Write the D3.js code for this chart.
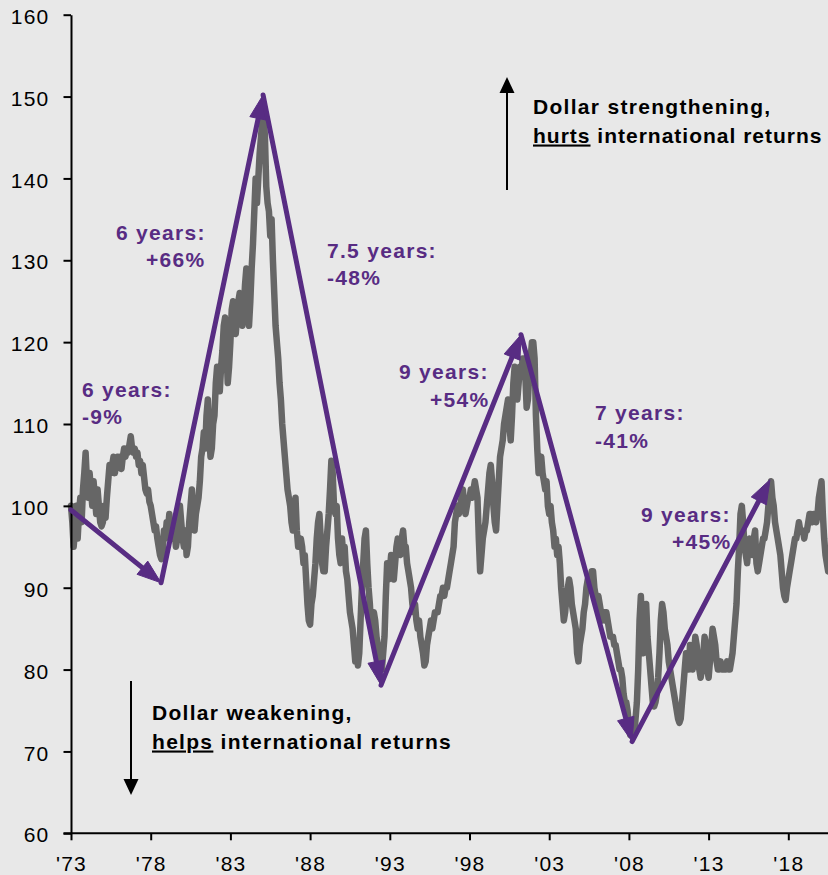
<!DOCTYPE html>
<html><head><meta charset="utf-8">
<script src="https://cdn.jsdelivr.net/npm/d3@7"></script>
<style>html,body{margin:0;padding:0;background:#e8e8e8;} svg{display:block;}</style>
</head><body><svg id="c" width="828" height="875"></svg>
<script>
// ---- data ----
const startYear = 1973; // monthly values from Jan 1973
const values1973_1979 = [
 100, 98, 95, 97, 100, 96, 99, 101, 98, 102, 104, 106.5,
 103, 101, 104, 102, 100, 103, 101, 99, 102, 100, 98, 97.5,
 98, 100, 98.5, 101, 103, 105, 104, 105, 106, 104, 105, 106,
 105, 106, 104.5, 106, 107, 106, 107, 106.5, 107.5, 108.5, 107, 106.5,
 107, 106, 106.5, 105, 105.5, 104, 105, 103.5, 102, 101.5, 102, 100.5,
 100, 99, 98, 97, 97.5, 96, 95, 94, 93.5, 94.5, 97, 96,
 98, 97, 99, 97, 96, 98, 97, 95, 96, 98, 100, 98
];
const values1980_1989 = [
 96, 95, 97, 94, 95, 98, 100, 102, 99, 97, 99, 100,
 101, 103, 106, 107, 109, 107, 111, 113, 109, 106, 107, 110,
 111, 115, 117, 116, 114, 117, 119, 122, 123, 119, 115, 117,
 120, 124, 125, 122, 121, 123, 125, 126, 124, 122, 124, 127,
 129, 126, 122, 125, 129, 132, 136, 140, 137, 140, 143, 145,
 147, 148, 145, 139, 137, 136, 133, 135, 130, 126, 122, 120,
 118, 115, 113, 110, 108, 106, 104, 102, 101, 100, 98, 97,
 99, 101, 97, 95, 95, 96, 95, 93, 94, 91, 88, 86,
 85.5, 88, 89, 91, 93, 96, 98, 99, 96, 93, 92, 92,
 95, 97, 99, 102, 105.5, 104, 100, 99, 100, 96, 94, 93
];
const values1990_1999 = [
 96, 94, 95, 92, 91, 89, 87, 86, 85, 83, 81, 82,
 80.5, 82, 86, 90, 93, 96, 97, 93, 90, 88, 85, 84,
 87, 86, 84, 83, 81, 80, 80, 82, 84, 89, 93, 91,
 92, 94, 93, 91, 93, 95, 96, 95, 94, 96, 97, 95,
 95, 93, 92, 91, 90, 88, 87, 88, 86, 85, 86, 84,
 83, 82, 80.5, 81, 83, 84, 85, 86, 85, 86, 87, 87,
 87, 88, 89, 89, 90, 89, 90, 90, 91, 92, 93, 94,
 95, 98, 99, 100, 99, 100, 101, 102, 100, 99, 100, 101,
 101, 102, 101, 102, 103, 102, 101, 96, 92, 94, 96, 97,
 98, 100, 102, 104, 105, 103, 100, 98, 97, 100, 103, 106
];
const values2000_2009 = [
 107, 108, 110, 111, 112, 113, 110, 108, 111, 115, 117, 114,
 113, 115, 117, 116, 118, 118, 116, 112, 113, 116, 118, 120,
 120, 118, 111, 107, 104, 105, 106, 104, 103, 102, 103, 100,
 99, 100, 98, 97, 95, 96, 94, 95, 93, 90, 88, 86,
 87, 89, 90, 91, 90, 88, 87, 86, 85, 82, 81, 83,
 84, 85, 87, 88, 90, 91, 90, 91, 92, 92, 90, 89,
 88, 89, 88, 87, 86, 87, 86, 87, 86, 85, 84, 84,
 84, 83, 83, 82, 81, 80, 80, 79, 77, 76, 76, 75,
 73, 72, 72, 73, 72, 74, 76, 80, 86, 89, 85, 82,
 86, 88, 84, 82, 80, 78, 76, 75.5, 76, 77, 79, 82
];
const values2010_2020 = [
 86, 88, 87, 85, 84, 83, 81, 80, 79, 78, 77, 76,
 75, 74, 73.5, 74, 76, 78, 80, 82, 81, 80, 83, 81,
 80, 82, 84, 83, 81, 80, 79, 80, 82, 84, 83, 80,
 79, 81, 83, 85, 84, 83, 81, 80, 80, 81, 80, 80,
 80, 80, 81, 80, 80, 81, 82, 84, 86, 88, 92, 95,
 99, 100, 98, 95, 94, 93, 95, 96, 95, 94, 96, 97,
 93, 92, 93, 94, 95, 96, 96, 97, 98, 100, 102, 103,
 101, 100, 98, 97, 96, 95, 94, 92, 90, 89, 88.5, 90,
 91, 92, 93, 94, 95, 96, 96, 97, 98, 97, 97, 97,
 96, 97, 97, 98, 99, 99, 98, 99, 99, 98, 99, 101,
 102, 103, 99, 96, 94, 93, 92
];
const yTicks = [60, 70, 80, 90, 100, 110, 120, 130, 140, 150, 160];
const xTickYears = [1973, 1978, 1983, 1988, 1993, 1998, 2003, 2008, 2013, 2018];
const xTickLabels = ["'73", "'78", "'83", "'88", "'93", "'98", "'03", "'08", "'13", "'18"];
const swingYears = [1973.0, 1978.65, 1985.05, 1992.45, 2001.23, 2008.2, 2016.85];
const swingValues = [99.5, 90.6, 150.2, 78.1, 120.9, 71.2, 103.2];
const swingLine1 = ["6 years:", "6 years:", "7.5 years:", "9 years:", "7 years:", "9 years:"];
const swingLine2 = ["-9%", "+66%", "-48%", "+54%", "-41%", "+45%"];

// ---- layout ----
const W = 828, H = 875;
const labelPos = [
  {x1: 82, x2: 82, y: 396.7},
  {x1: 116, x2: 146, y: 239.5},
  {x1: 327, x2: 327, y: 257.5},
  {x1: 399, x2: 430, y: 379.3},
  {x1: 595, x2: 595, y: 420},
  {x1: 641, x2: 672, y: 521.7}
];
const FONT = "'Liberation Sans', Arial, Helvetica, sans-serif";
const PURPLE = "#582c83";

const allValues = [].concat(values1973_1979, values1980_1989, values1990_1999, values2000_2009, values2010_2020);
const series = allValues.map((v, i) => ({t: startYear + i / 12, v}));

const svg = d3.select("#c");
svg.append("rect").attr("width", W).attr("height", H).attr("fill", "#e8e8e8");

const x = d3.scaleLinear().domain([1973, 2020.49]).range([71, 828]);
const y = d3.scaleLinear().domain([60, 160]).range([833.3, 14.7]);

// gray line
svg.append("path").datum(series)
  .attr("fill", "none").attr("stroke", "#666666").attr("stroke-width", 6.5)
  .attr("stroke-linejoin", "round").attr("stroke-linecap", "round")
  .attr("d", d3.line().x(d => x(d.t)).y(d => y(d.v)));

// axes
const yAxis = svg.append("g").attr("transform", "translate(71,0)")
  .call(d3.axisLeft(y).tickValues(yTicks).tickSize(7.5).tickSizeOuter(0).tickPadding(14).tickFormat(d3.format("d")));
const xAxis = svg.append("g").attr("transform", "translate(0,833.3)")
  .call(d3.axisBottom(x).tickValues(xTickYears).tickSize(7).tickSizeOuter(0).tickPadding(15.5)
    .tickFormat((d, i) => xTickLabels[i]));
[yAxis, xAxis].forEach(g => {
  g.select(".domain").attr("stroke", "#000").attr("stroke-width", 2);
  g.selectAll(".tick line").attr("stroke", "#000").attr("stroke-width", 2);
  g.selectAll(".tick text").attr("fill", "#000").style("font-family", FONT)
    .style("font-size", "21px").style("letter-spacing", "1.2px");
});
yAxis.selectAll(".tick text").attr("dy", "0.41em");
xAxis.select(".domain").attr("d", "M63.5,0H828");

// purple swing arrows
const arrowG = svg.append("g");
for (let i = 0; i < swingYears.length - 1; i++) {
  const p0 = [x(swingYears[i]), y(swingValues[i])];
  const p1 = [x(swingYears[i + 1]), y(swingValues[i + 1])];
  const dx = p1[0] - p0[0], dy = p1[1] - p0[1];
  const len = Math.hypot(dx, dy);
  const ux = dx / len, uy = dy / len, nx = -uy, ny = ux;
  const L = 24, hw = 8.5;
  const bx = p1[0] - ux * L, by = p1[1] - uy * L;
  arrowG.append("line")
    .attr("x1", p0[0]).attr("y1", p0[1]).attr("x2", bx + ux * 3).attr("y2", by + uy * 3)
    .attr("stroke", PURPLE).attr("stroke-width", 5).attr("stroke-linecap", "round");
  arrowG.append("path")
    .attr("d", `M${p1[0]},${p1[1]}L${bx + nx * hw},${by + ny * hw}L${bx - nx * hw},${by - ny * hw}Z`)
    .attr("fill", PURPLE).attr("stroke", PURPLE).attr("stroke-width", 1).attr("stroke-linejoin", "round");
}

// swing labels
swingLine1.forEach((t, i) => {
  const p = labelPos[i];
  const txt = svg.append("text").attr("fill", PURPLE).style("font-family", FONT)
    .style("font-size", "21px").style("font-weight", "bold").style("letter-spacing", "1.3px");
  txt.append("tspan").attr("x", p.x1).attr("y", p.y).text(t);
  txt.append("tspan").attr("x", p.x2).attr("y", p.y + 27.5).text(swingLine2[i]);
});

// black direction arrows
function blackArrow(xp, yFrom, yTip, dir) {
  const L = 16, hw = 7.5;
  const base = yTip - dir * L;
  svg.append("line").attr("x1", xp).attr("x2", xp).attr("y1", yFrom).attr("y2", base)
    .attr("stroke", "#000").attr("stroke-width", 2);
  svg.append("path").attr("d", `M${xp},${yTip}L${xp - hw},${base}L${xp + hw},${base}Z`).attr("fill", "#000");
}
blackArrow(507, 190, 77, -1);
blackArrow(131, 681, 795, 1);

function note(xp, yp, l1, u, rest, ls2) {
  const t = svg.append("text").attr("fill", "#000").style("font-family", FONT)
    .style("font-size", "21px").style("font-weight", "bold").style("letter-spacing", "1.3px");
  t.append("tspan").attr("x", xp).attr("y", yp).text(l1);
  t.append("tspan").attr("x", xp).attr("y", yp + 28.5).style("text-decoration", "underline")
    .style("letter-spacing", ls2).text(u);
  t.append("tspan").style("letter-spacing", ls2).text(rest);
}
note(533, 114, "Dollar strengthening,", "hurts", " international returns", "1px");
note(152, 720, "Dollar weakening,", "helps", " international returns", "1.3px");
</script></body></html>
